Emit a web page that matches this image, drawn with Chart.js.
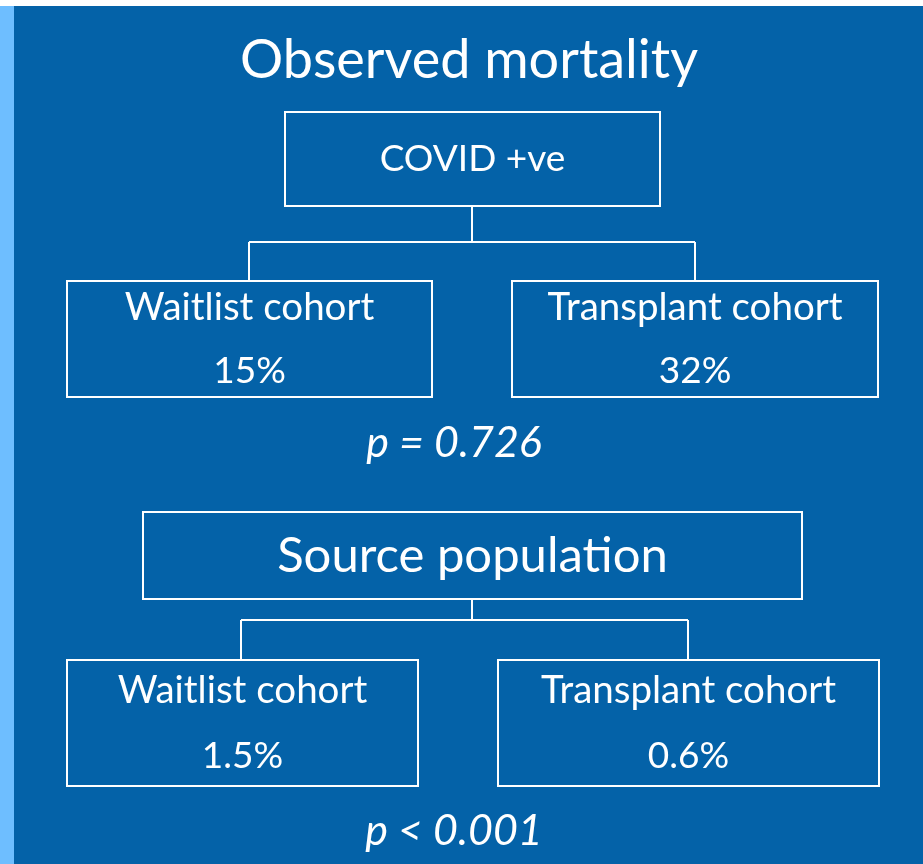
<!DOCTYPE html>
<html>
<head>
<meta charset="utf-8">
<script src="https://cdn.jsdelivr.net/npm/chart.js@4/dist/chart.umd.min.js"></script>
<style>
  html, body { margin: 0; padding: 0; background: #fff; }
  .wrap { width: 923px; height: 864px; position: relative; }
</style>
</head>
<body>
<div class="wrap"><canvas id="chart"></canvas></div>
<script>
// data
const title = 'Observed mortality';
const groups = ['COVID +ve', 'Source population'];
const cohorts = ['Waitlist cohort', 'Transplant cohort'];
const covidMortality = [15, 32];      // % observed mortality, COVID +ve
const sourceMortality = [1.5, 0.6];   // % observed mortality, source population
const pValues = ['p = 0.726', 'p < 0.001'];

// layout (in scale units, 0..923 x 0..864)
const colors = {
    bg: 'rgb(4, 98, 168)',
    strip: 'rgb(110, 190, 255)',
    line: '#ffffff',
    text: '#ffffff'
};
const FONT = 'Lato, "Open Sans", sans-serif';
const sections = [
    {
        parent: { x0: 285, x1: 660, y0: 112, y1: 206, base: 171, size: 37 },
        joinY: 242, stemX: 472,
        children: [
            { x0: 67, x1: 432, y0: 281, y1: 397 },
            { x0: 512, x1: 878, y0: 281, y1: 397 }
        ],
        dropX: [249, 695],
        labelBase: 320, valueBase: 383,
        p: { x: 454, base: 457 }
    },
    {
        parent: { x0: 143, x1: 802, y0: 512, y1: 599, base: 572, size: 49 },
        joinY: 620, stemX: 472,
        children: [
            { x0: 67, x1: 418, y0: 660, y1: 786 },
            { x0: 498, x1: 879, y0: 660, y1: 786 }
        ],
        dropX: [241, 688],
        labelBase: 703, valueBase: 768,
        p: { x: 454, base: 845 }
    }
];
const seriesValues = [covidMortality, sourceMortality];

const diagramPlugin = {
    id: 'diagram',
    beforeDraw(chart) {
        const { ctx, scales: { x, y } } = chart;
        ctx.save();
        ctx.fillStyle = '#ffffff';
        ctx.fillRect(0, 0, chart.width, chart.height);
        ctx.fillStyle = colors.strip;
        ctx.fillRect(x.getPixelForValue(0), y.getPixelForValue(6), x.getPixelForValue(14) - x.getPixelForValue(0), y.getPixelForValue(864) - y.getPixelForValue(6));
        ctx.fillStyle = colors.bg;
        ctx.fillRect(x.getPixelForValue(14), y.getPixelForValue(6), x.getPixelForValue(923) - x.getPixelForValue(14), y.getPixelForValue(864) - y.getPixelForValue(6));
        ctx.restore();
    },
    afterDraw(chart) {
        const { ctx, scales: { x, y } } = chart;
        const px = v => x.getPixelForValue(v);
        const py = v => y.getPixelForValue(v);
        const box = b => ctx.strokeRect(px(b.x0), py(b.y0), px(b.x1) - px(b.x0), py(b.y1) - py(b.y0));
        const line = (x0, y0, x1, y1) => {
            ctx.beginPath();
            ctx.moveTo(px(x0), py(y0));
            ctx.lineTo(px(x1), py(y1));
            ctx.stroke();
        };
        const text = (str, cx, base, size, italic) => {
            ctx.font = (italic ? 'italic ' : '') + size + 'px ' + FONT;
            ctx.fillText(str, px(cx), py(base));
        };

        ctx.save();
        ctx.strokeStyle = colors.line;
        ctx.lineWidth = 2;
        ctx.fillStyle = colors.text;
        ctx.textAlign = 'center';
        ctx.textBaseline = 'alphabetic';

        text(title, 469, 78, 54, false);

        sections.forEach((s, i) => {
            const p = s.parent;
            box(p);
            text(groups[i], (p.x0 + p.x1) / 2, p.base, p.size, false);

            line(s.stemX, p.y1, s.stemX, s.joinY);
            line(s.dropX[0], s.joinY, s.dropX[1], s.joinY);

            s.children.forEach((c, j) => {
                line(s.dropX[j], s.joinY, s.dropX[j], c.y0);
                box(c);
                const cx = (c.x0 + c.x1) / 2;
                text(cohorts[j], cx, s.labelBase, 38.5, false);
                text(seriesValues[i][j] + '%', cx, s.valueBase, 37, false);
            });

            text(pValues[i], s.p.x, s.p.base, 43, true);
        });
        ctx.restore();
    }
};

const chart = new Chart(document.getElementById('chart'), {
    type: 'scatter',
    data: { datasets: [{ data: [] }] },
    options: {
        responsive: true,
        maintainAspectRatio: false,
        animation: false,
        layout: { padding: 0 },
        plugins: { legend: { display: false }, tooltip: { enabled: false } },
        scales: {
            x: { type: 'linear', min: 0, max: 923, display: false },
            y: { type: 'linear', min: 0, max: 864, reverse: true, display: false }
        }
    },
    plugins: [diagramPlugin]
});
</script>
</body>
</html>
